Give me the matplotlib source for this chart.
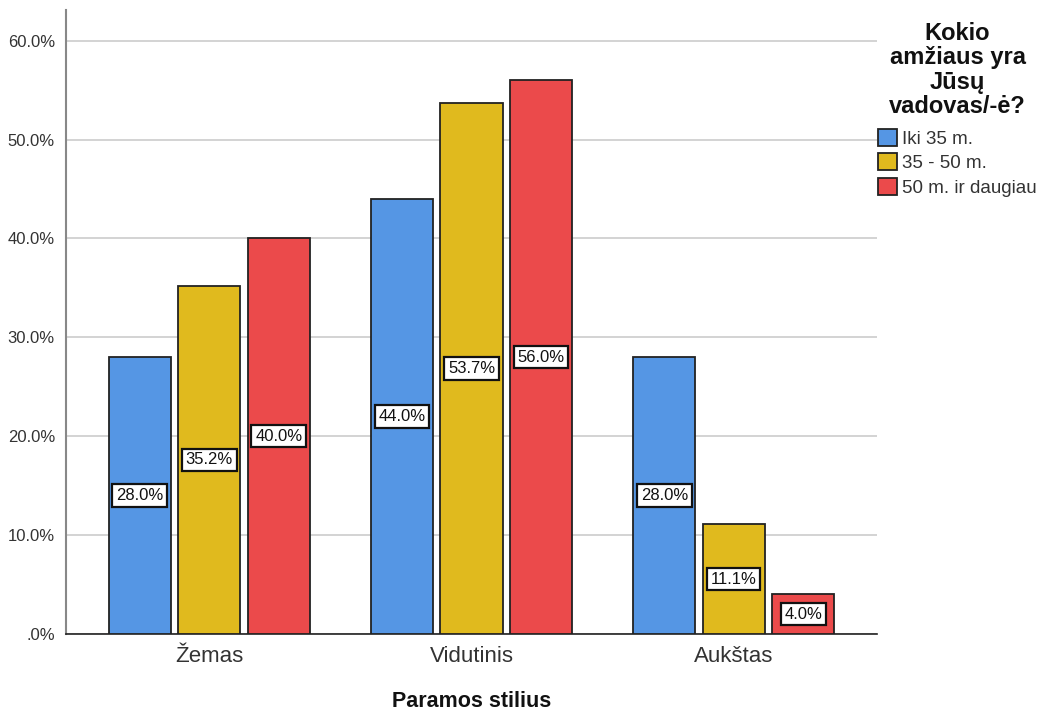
import matplotlib
matplotlib.use("Agg")
import matplotlib.pyplot as plt
import numpy as np
from matplotlib.patches import Patch

plt.rcParams['font.family'] = ['Liberation Sans', 'DejaVu Sans']

categories = ["Žemas", "Vidutinis", "Aukštas"]
series_names = ["Iki 35 m.", "35 - 50 m.", "50 m. ir daugiau"]
values = {
    "Iki 35 m.": [28.0, 44.0, 28.0],
    "35 - 50 m.": [35.2, 53.7, 11.1],
    "50 m. ir daugiau": [40.0, 56.0, 4.0],
}
colors = ["#5596E4", "#E0BA1E", "#EB4A4B"]
y_ticks = [0, 10, 20, 30, 40, 50, 60]
y_tick_labels = [".0%", "10.0%", "20.0%", "30.0%", "40.0%", "50.0%", "60.0%"]

fig = plt.figure(figsize=(10.42, 7.15), dpi=100)
ax = fig.add_axes([66/1042, 1-634/715, 811/1042, 624/715])

x = np.arange(len(categories))
width = 0.237
step = 0.265
for i, (name, col) in enumerate(zip(series_names, colors)):
    pos = x + (i - 1) * step
    vals = values[name]
    ax.bar(pos, vals, width, color=col, edgecolor="#222222", linewidth=1.3, zorder=3)
    for p, v in zip(pos, vals):
        ax.text(p, v / 2, f"{v:.1f}%", ha="center", va="center", fontsize=12,
                color="#111111", zorder=4,
                bbox=dict(boxstyle="square,pad=0.22", facecolor="white",
                          edgecolor="#111111", linewidth=1.6))

ax.set_xlim(-0.546, 2.546)
ax.set_ylim(0, 63.1)
ax.set_yticks(y_ticks)
ax.set_yticklabels(y_tick_labels, fontsize=12, color="#333333")
ax.set_xticks(x)
ax.set_xticklabels(categories, fontsize=16, color="#333333")
ax.tick_params(axis="y", length=0, pad=8)
ax.tick_params(axis="x", length=0, pad=9)
ax.yaxis.grid(True, color="#d0d0d0", linewidth=1.3, zorder=0)
ax.set_axisbelow(True)
for s in ["top", "right"]:
    ax.spines[s].set_visible(False)
ax.spines["left"].set_color("#888888")
ax.spines["left"].set_linewidth(1.5)
ax.spines["bottom"].set_color("#222222")
ax.spines["bottom"].set_linewidth(1.2)

ax.set_xlabel("Paramos stilius", fontsize=15.5, fontweight="bold", labelpad=17,
              color="#111111")

handles = [Patch(facecolor=c, edgecolor="#222222", linewidth=1.3) for c in colors]
leg = fig.legend(handles, series_names,
                 title="Kokio\namžiaus yra\nJūsų\nvadovas/-ė?",
                 loc="upper left", bbox_to_anchor=(878/1042, 1-22/715),
                 frameon=False, fontsize=13.5, handlelength=1.0, handleheight=1.0,
                 handletextpad=0.3, labelspacing=0.3, borderaxespad=0,
                 borderpad=0,
                 title_fontproperties={"size": 17, "weight": "bold"})
leg.get_title().set_ha("center")
leg.get_title().set_linespacing(1.07)
leg.get_title().set_color("#111111")
# extra room between the title block and the entries
leg._legend_box.sep = 8
for t in leg.get_texts():
    t.set_color("#333333")

fig.savefig("out.png", dpi=100)
